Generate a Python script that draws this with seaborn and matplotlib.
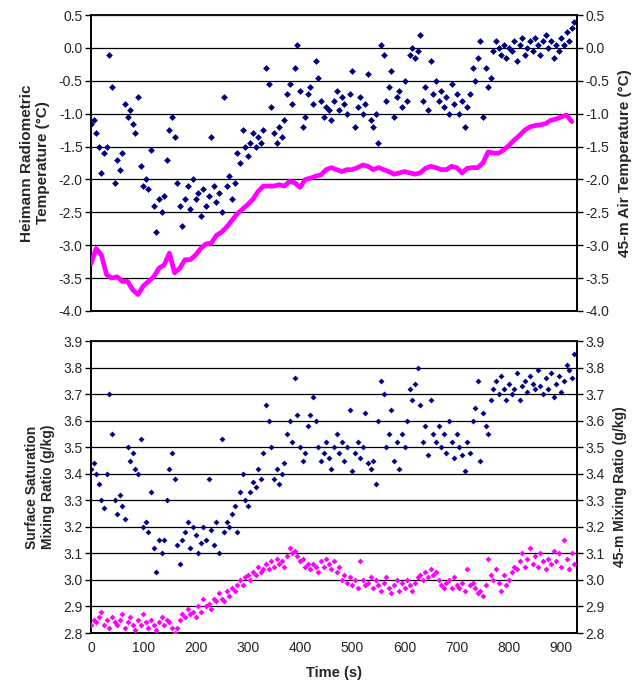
#!/usr/bin/env python

import numpy as np
import seaborn as sns
import matplotlib.pyplot as plt

sns.set_theme(style="white")
plt.rcParams['font.family'] = ['Liberation Sans', 'DejaVu Sans']

# Heimann radiometric temperature (degC), one reading every 5 s
heimann_temp = [
    -1.15, -1.1, -1.3, -1.5, -1.9, -1.6, -1.5, -0.1, -0.6, -2.05,
    -1.7, -1.85, -1.6, -0.85, -1.05, -0.95, -1.15, -1.3, -0.75, -1.8,
    -2.1, -2.0, -2.15, -1.55, -2.4, -2.8, -2.3, -2.5, -2.25, -1.7,
    -1.25, -1.05, -1.35, -2.05, -2.4, -2.7, -2.3, -2.1, -2.45, -2.0,
    -2.3, -2.2, -2.55, -2.15, -2.4, -2.25, -1.35, -2.1, -2.35, -2.2,
    -2.5, -0.75, -2.1, -1.95, -2.3, -2.05, -1.6, -1.75, -1.25, -1.5,
    -1.65, -1.45, -1.3, -1.5, -1.35, -1.45, -1.25, -0.3, -0.55, -0.9,
    -1.3, -1.45, -1.2, -1.35, -1.1, -0.7, -0.55, -0.85, -0.3, 0.05,
    -0.65, -1.2, -1.05, -0.7, -0.6, -0.85, -0.2, -0.45, -0.8, -1.05,
    -0.9, -0.95, -1.1, -0.8, -0.65, -0.95, -0.75, -0.85, -1.0, -0.7,
    -0.35, -1.2, -0.9, -0.75, -1.0, -0.85, -0.4, -1.1, -1.2, -1.0,
    -1.45, 0.05, -0.1, -0.8, -0.6, -0.35, -1.05, -0.75, -0.65, -0.9,
    -0.5, -0.8, -0.1, 0.0, -0.15, -0.05, 0.2, -0.8, -0.6, -0.95,
    -0.2, -0.7, -0.5, -0.8, -0.65, -0.9, -0.75, -1.0, -0.55, -0.85,
    -0.7, -1.0, -0.8, -1.2, -0.9, -0.7, -0.3, -0.5, -0.15, 0.1,
    -1.05, -0.3, -0.6, -0.45, -0.05, 0.1, 0.0, -0.1, 0.05, -0.15,
    0.0, -0.05, 0.1, -0.2, 0.05, 0.15, -0.1, 0.0, 0.1, -0.05,
    0.15, 0.05, -0.1, 0.1, 0.2, 0.0, 0.1, -0.15, 0.05, -0.05,
    0.15, 0.05, 0.25, 0.1, 0.3, 0.4,
]

# 45-m air temperature (degC), one reading every 10 s
air_temp = [
    -3.28, -3.05, -3.15, -3.45, -3.5, -3.48, -3.55, -3.55, -3.68, -3.75,
    -3.62, -3.55, -3.48, -3.35, -3.3, -3.12, -3.42, -3.35, -3.22, -3.22,
    -3.15, -3.05, -2.98, -2.97, -2.85, -2.8, -2.72, -2.62, -2.52, -2.45,
    -2.38, -2.3, -2.18, -2.1, -2.1, -2.1, -2.08, -2.1, -2.03, -2.05,
    -2.12, -2.0, -1.98, -1.95, -1.93, -1.85, -1.82, -1.85, -1.88, -1.85,
    -1.85, -1.82, -1.78, -1.8, -1.85, -1.82, -1.85, -1.88, -1.92, -1.9,
    -1.88, -1.9, -1.92, -1.9, -1.83, -1.8, -1.82, -1.85, -1.85, -1.8,
    -1.82, -1.9, -1.83, -1.82, -1.82, -1.75, -1.58, -1.6, -1.6, -1.55,
    -1.48, -1.4, -1.33, -1.25, -1.2, -1.18, -1.17, -1.15, -1.1, -1.08,
    -1.05, -1.02, -1.12,
]

# surface saturation mixing ratio (g/kg), every 5 s
surface_mr = [
    3.42, 3.44, 3.4, 3.36, 3.3, 3.27, 3.4, 3.7, 3.55, 3.3,
    3.25, 3.32, 3.28, 3.23, 3.5, 3.45, 3.48, 3.42, 3.4, 3.53,
    3.2, 3.22, 3.18, 3.33, 3.12, 3.03, 3.15, 3.1, 3.15, 3.3,
    3.42, 3.48, 3.38, 3.13, 3.06, 3.15, 3.18, 3.22, 3.12, 3.2,
    3.17, 3.1, 3.14, 3.2, 3.15, 3.38, 3.19, 3.13, 3.22, 3.1,
    3.53, 3.18, 3.22, 3.2, 3.25, 3.28, 3.18, 3.33, 3.4, 3.3,
    3.28, 3.33, 3.37, 3.35, 3.42, 3.38, 3.48, 3.66, 3.6, 3.5,
    3.38, 3.42, 3.36, 3.4, 3.44, 3.55, 3.6, 3.52, 3.76, 3.62,
    3.5, 3.45, 3.48, 3.58, 3.62, 3.69, 3.6, 3.5, 3.45, 3.48,
    3.52, 3.46, 3.42, 3.5, 3.55, 3.48, 3.52, 3.45, 3.5, 3.64,
    3.41, 3.48, 3.52, 3.46, 3.5, 3.63, 3.44, 3.42, 3.45, 3.36,
    3.6, 3.75, 3.7, 3.5, 3.55, 3.64, 3.45, 3.52, 3.42, 3.55,
    3.5, 3.6, 3.72, 3.68, 3.74, 3.8, 3.66, 3.52, 3.58, 3.47,
    3.68, 3.55, 3.52, 3.58, 3.5, 3.55, 3.48, 3.6, 3.52, 3.46,
    3.55, 3.5, 3.47, 3.41, 3.52, 3.48, 3.6, 3.65, 3.75, 3.45,
    3.63, 3.58, 3.55, 3.68, 3.72, 3.75, 3.7, 3.77, 3.72, 3.68,
    3.74, 3.7, 3.72, 3.78, 3.68, 3.73, 3.75, 3.71, 3.77, 3.74,
    3.72, 3.79, 3.73, 3.7, 3.76, 3.72, 3.78, 3.69, 3.74, 3.77,
    3.71, 3.75, 3.81, 3.79, 3.76, 3.85,
]

# 45-m mixing ratio (g/kg), every 5 s
air_mr = [
    2.83, 2.85, 2.84, 2.86, 2.88, 2.83, 2.85, 2.82, 2.86, 2.84,
    2.83, 2.85, 2.87, 2.82, 2.84, 2.86, 2.83, 2.81, 2.85, 2.83,
    2.87, 2.84, 2.82, 2.85, 2.83, 2.81, 2.84, 2.86, 2.83, 2.85,
    2.84, 2.82, 2.8, 2.82, 2.85, 2.87, 2.86, 2.89, 2.87, 2.88,
    2.86, 2.9, 2.88, 2.93, 2.9, 2.91, 2.89, 2.93, 2.92, 2.95,
    2.93, 2.92, 2.96, 2.94, 2.97, 2.96, 2.98, 3.0, 2.98, 3.01,
    3.02, 3.0, 3.03, 3.02, 3.05, 3.03, 3.04, 3.06, 3.04, 3.07,
    3.05, 3.08, 3.06, 3.07, 3.05, 3.09, 3.12, 3.1, 3.11, 3.09,
    3.07, 3.08, 3.05, 3.06, 3.04, 3.06, 3.05, 3.03, 3.07, 3.05,
    3.08, 3.06, 3.04, 3.07, 3.03, 3.05, 3.0, 3.02, 2.99, 3.01,
    2.98, 3.0, 2.97, 3.07, 3.0, 2.98, 2.99, 3.01, 2.97, 3.0,
    2.98, 2.96, 2.99, 3.01, 2.97, 2.95, 2.98, 3.0, 2.96, 2.99,
    2.97, 3.0, 2.98, 2.96, 2.99, 3.01, 3.02, 3.0, 3.03, 3.01,
    3.04, 3.02, 3.03, 3.0, 2.98, 2.97, 2.99, 3.0, 2.97, 3.01,
    2.98, 2.97, 2.99, 2.96, 3.04, 2.98, 2.99, 2.97, 2.95, 2.96,
    2.94, 2.98, 3.08, 3.02, 3.0, 3.04, 2.99, 2.96, 3.02, 2.98,
    3.0, 3.03, 3.05, 3.04, 3.07, 3.1, 3.05, 3.08, 3.12, 3.06,
    3.09, 3.05, 3.1, 3.07, 3.04, 3.08, 3.06, 3.11, 3.07, 3.1,
    3.05, 3.15, 3.08, 3.04, 3.1, 3.06,
]

t_fast = np.arange(len(heimann_temp)) * 5
t_slow = np.arange(len(air_temp)) * 10
NAVY = '#000080'
PINK = '#FF00FF'


def style_axes(ax, ax2, ylim, step, show_xlabels):
    ax.set_xlim(0, 930)
    ax.set_ylim(*ylim)
    ax2.set_ylim(*ylim)
    yt = np.round(np.arange(ylim[0], ylim[1] + step / 2, step), 2)
    ax.set_yticks(yt)
    ax2.set_yticks(yt)
    ax.set_xticks(range(0, 901, 100))
    ax.yaxis.grid(True, color='black', lw=0.9)
    ax.set_axisbelow(True)
    for a in (ax, ax2):
        for s in a.spines.values():
            s.set_color('black')
            s.set_linewidth(1.2)
        a.tick_params(axis='both', direction='out', length=4, width=1,
                      color='black', labelsize=10, pad=2)
    ax.spines['top'].set_color('#808080')
    if not show_xlabels:
        ax.set_xticklabels([])


fig = plt.figure(figsize=(6.44, 6.85), dpi=100)
ax1 = fig.add_axes([0.1413, 0.546, 0.7547, 0.432])
ax1r = ax1.twinx()
sns.scatterplot(x=t_fast, y=heimann_temp, ax=ax1, color=NAVY, marker='D',
                s=12, linewidth=0, zorder=3)
sns.lineplot(x=t_slow, y=air_temp, ax=ax1r, color=PINK, lw=3.4, zorder=3)
style_axes(ax1, ax1r, (-4.0, 0.5), 0.5, False)
ax1.set_yticklabels([f'{v:.1f}' for v in ax1.get_yticks()])
ax1r.set_yticklabels([f'{v:.1f}' for v in ax1r.get_yticks()])
ax1.set_ylabel('Heimann Radiometric\nTemperature (°C)', fontsize=11,
               fontweight='bold', labelpad=6)
ax1r.set_ylabel('45-m Air Temperature (°C)', fontsize=11,
                fontweight='bold', labelpad=6)

ax2 = fig.add_axes([0.1413, 0.0759, 0.7547, 0.426])
ax2r = ax2.twinx()
sns.scatterplot(x=t_fast, y=surface_mr, ax=ax2, color=NAVY, marker='D',
                s=9, linewidth=0, zorder=3)
sns.scatterplot(x=t_fast, y=air_mr, ax=ax2r, color=PINK, marker='D',
                s=9, linewidth=0, zorder=3)
style_axes(ax2, ax2r, (2.8, 3.9), 0.1, True)
ax2.set_yticklabels([f'{v:.1f}' for v in ax2.get_yticks()])
ax2r.set_yticklabels([f'{v:.1f}' for v in ax2r.get_yticks()])
ax2.set_ylabel('Surface Saturation\nMixing Ratio (g/kg)', fontsize=10,
               fontweight='bold', labelpad=6)
ax2r.set_ylabel('45-m Mixing Ratio (g/kg)', fontsize=10,
                fontweight='bold', labelpad=6)
ax2.set_xlabel('Time (s)', fontsize=10.5, fontweight='bold', labelpad=8)

plt.savefig('out.png', dpi=100)
